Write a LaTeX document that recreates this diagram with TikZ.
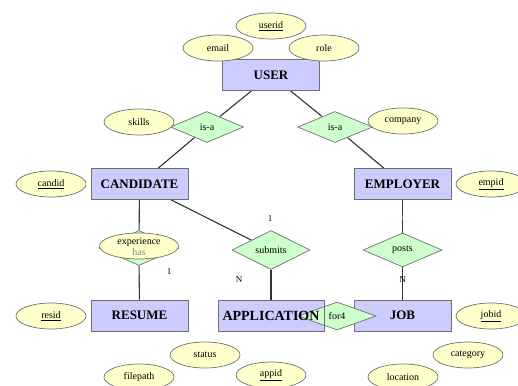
\documentclass[tikz,border=0pt]{standalone}
\usepackage{fontspec}
\setmainfont{Liberation Serif}
\usetikzlibrary{shapes.geometric}
\definecolor{lavanda}{HTML}{CCCCFF}
\definecolor{menta}{HTML}{CCFFCC}
\definecolor{crema}{HTML}{FFFFCC}
\definecolor{pizarra}{HTML}{707070}
\definecolor{tinta}{HTML}{333333}
\definecolor{tenue}{HTML}{8A8A8A}
\pgfdeclarelayer{back}
\pgfdeclarelayer{top}
\pgfsetlayers{back,main,top}

\begin{document}
\begin{tikzpicture}[x=1pt, y=-1pt,
    entity/.style={rectangle, draw=pizarra, line width=0.9pt, fill=lavanda, minimum width=97pt, minimum height=31pt, inner sep=0pt, font=\fontsize{13}{13}\selectfont\bfseries},
    rel/.style={diamond, draw=pizarra, line width=0.7pt, fill=menta, aspect=2.3, inner sep=0pt, minimum width=78pt, minimum height=34pt, font=\fontsize{10}{10}\selectfont},
    attr/.style={ellipse, draw=pizarra, line width=0.7pt, fill=crema, minimum width=70pt, minimum height=26pt, inner sep=0pt, font=\fontsize{10}{10}\selectfont},
    card/.style={font=\fontsize{9}{9}\selectfont, inner sep=0pt},
    link/.style={draw=tinta, line width=1.1pt}]
    \useasboundingbox (0,0) rectangle (518,385);

    % entities
    \node[entity] (user) at (271,75) {USER};
    \node[entity] (cand) at (139.5,184) {CANDIDATE};
    \node[entity] (emp) at (402.5,184) {EMPLOYER};
    \node[entity] (resume) at (139.5,315.5) {RESUME};
    \node[entity] (job) at (402.5,315.5) {JOB};
    \begin{pgfonlayer}{top}
        \node[entity, fill=none, minimum width=106pt, font=\fontsize{14}{14}\selectfont\bfseries] (app) at (271,315.5) {APPLICATION};
    \end{pgfonlayer}
    \fill[lavanda] (app.north west) rectangle (app.south east);

    % relationships
    \node[rel, minimum width=73pt, minimum height=31pt] (isaL) at (207,127) {is-a};
    \node[rel, minimum width=75pt, minimum height=31pt] (isaR) at (335,127) {is-a};
    \node[rel, minimum height=39pt] (submits) at (271,250) {submits};
    \node[rel, minimum width=79pt] (posts) at (402.5,250) {posts};
    \node[rel, minimum height=28pt] (for4) at (337,316) {for4};
    \begin{pgfonlayer}{top}
        \node[rel, draw=none, fill=none, minimum width=79pt, text=tenue, text height=14pt, text depth=0pt] (has) at (139,248) {has};
    \end{pgfonlayer}
    \draw[draw=pizarra, line width=0.7pt, fill=menta] (has.north) -- (has.east) -- (has.south) -- (has.west) -- cycle;

    % attributes
    \foreach \n/\x/\y/\t in {userid/271/26/\underline{userid}, email/218/48/email, role/324/48/role,
        skills/139/122/skills, company/403/121/company, candid/51/184/\underline{candid},
        empid/491/184/\underline{empid}, resid/51/316/\underline{resid},
        jobid/491/316/\underline{jobid}, status/205/355/status, category/468/355/category,
        filepath/139/377/filepath, appid/271/375/\underline{appid}, location/403/377/location}
        \node[attr] (\n) at (\x,\y) {\t};
    \node[attr, minimum width=79pt, text height=0pt, text depth=4pt] (experience) at (139,246) {experience};

    % cardinalities
    \node[card] (c1) at (270,219) {1};
    \node[card] (c2) at (239,280) {N};
    \node[card] (c3) at (169,272) {1};
    \node[card, text=tenue] (c4) at (139,280) {1};
    \node[card, text=tenue] (c5) at (402.5,219) {1};
    \node[card] (c6) at (402.5,280) {N};

    % connectors
    \begin{pgfonlayer}{back}
        \draw[link] (user) -- (isaL);
        \draw[link] (isaL) -- (cand);
        \draw[link] (user) -- (isaR);
        \draw[link] (isaR) -- (emp);
        \draw[link] (cand) -- (submits);
        \draw[link] (submits) -- (app);
        \draw[link] (cand) -- (has);
        \draw[link] (has) -- (resume);
        \draw[link] (emp) -- (posts);
        \draw[link] (posts) -- (job);
    \end{pgfonlayer}
\end{tikzpicture}
\end{document}
